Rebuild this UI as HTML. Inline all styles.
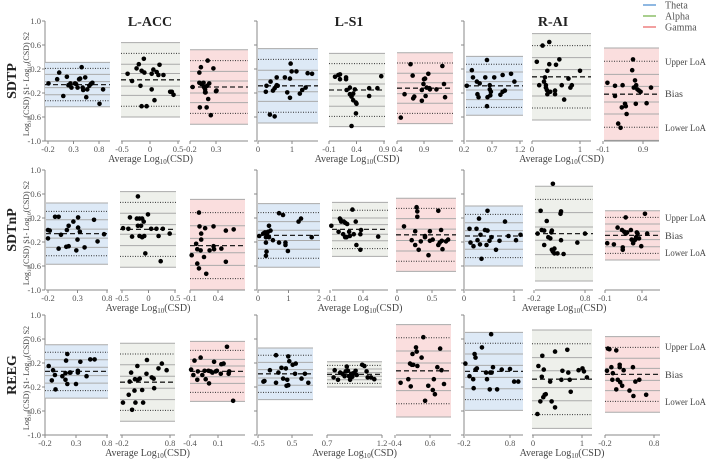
<!DOCTYPE html>
<html><head><meta charset="utf-8"><style>
html,body{margin:0;padding:0;background:#fff;}
svg{display:block;font-family:"Liberation Serif",serif;}
</style></head><body>
<svg id="chart" width="709" height="460" viewBox="0 0 709 460" xmlns="http://www.w3.org/2000/svg">
<g font-size="10" fill="#555">
<line x1="643" y1="5" x2="656" y2="5" stroke="#8fb8e2" stroke-width="2"/>
<text x="665" y="8.5">Theta</text>
<line x1="643" y1="16" x2="656" y2="16" stroke="#a9cf8e" stroke-width="2"/>
<text x="665" y="19.5">Alpha</text>
<line x1="643" y1="27" x2="656" y2="27" stroke="#f2a0a0" stroke-width="2"/>
<text x="665" y="30.5">Gamma</text>
</g>
<g font-weight="bold" font-size="14" fill="#222" text-anchor="middle">
<text x="150" y="26">L-ACC</text>
<text x="349" y="26">L-S1</text>
<text x="553" y="26">R-AI</text>
</g>
</svg>
<script>
const xTicks = [[-0.2,0.3,0.8],[-0.5,0,0.5],[-0.2,0.3],[0,1],[-0.1,0.4,0.9],[0.4,0.9],[0.2,0.7,1.2],[0,1],[-0.1,0.9],
[-0.2,0.3,0.8],[-0.5,0,0.5],[-0.1,0.4],[0,1,2],[-0.1,0.4],[0,0.5],[0,1],[-0.2,0.8],[-0.1,0.4],
[-0.2,0.3,0.8],[-0.2,0.8],[-0.4,0.1],[-0.5,0.5],[0.7,1.2],[-0.4,0.6],[-0.2,0.8],[0,1],[-0.2,0.8]];
const yTicks = [1.0,0.6,0.2,-0.2,-0.6,-1.0];
const rowLabels = ["SDTP","SDTnP","REEG"];
const biasVals = [-0.06,0.02,-0.1,-0.08,-0.15,-0.12,-0.08,0.07,-0.22, -0.06,0.01,-0.26,-0.09,0.01,-0.08,-0.1,-0.06,-0.09, 0.06,-0.12,0.06,0.02,0.01,0.07,0.06,-0.07,0.01];
const loaVals = [0.27,0.44,0.44,0.44,0.44,0.42,0.36,0.52,0.55, 0.37,0.45,0.55,0.38,0.32,0.44,0.36,0.57,0.3, 0.32,0.47,0.35,0.31,0.15,0.55,0.47,0.59,0.45];
const biasCI = [0.05,0.105,0.1,0.1,0.1,0.09,0.07,0.12,0.13, 0.075,0.08,0.12,0.085,0.08,0.095,0.09,0.11,0.07, 0.07,0.1,0.09,0.07,0.03,0.13,0.1,0.14,0.1];
const loaCI = [0.1,0.18,0.18,0.18,0.17,0.17,0.13,0.2,0.22, 0.14,0.18,0.22,0.15,0.13,0.17,0.14,0.22,0.11, 0.125,0.18,0.15,0.12,0.06,0.22,0.18,0.23,0.18];
const ptsX = [
[-0.19,-0.02,0.02,0.10,0.17,0.20,0.24,0.26,0.33,0.38,0.41,0.43,0.46,0.48,0.49,0.53,0.55,0.57,0.61,0.64,0.67,0.81,0.88,0.35],
[-0.40,-0.32,-0.24,-0.2,-0.15,-0.11,-0.1,-0.17,-0.15,-0.06,0.03,0.06,0.08,0.12,0.15,0.17,0.24,0.36,0.39,0.42,0.03],
[-0.15,-0.02,0.01,-0.02,0.02,0.06,0.07,0.09,0.09,0.1,0.14,0.13,0.15,0.17,-0.01,0.12,0.2,0.25,0.3,0.31,0.07],
[0.23,0.25,0.37,0.44,0.49,0.55,0.55,0.35,0.49,0.79,0.86,0.94,0.94,0.96,0.99,1.13,1.23,1.30,1.40,1.46,1.59,0.58],
[0.01,0.07,0.1,0.1,0.21,0.21,0.22,0.28,0.28,0.31,0.34,0.34,0.39,0.40,0.39,0.31,0.63,0.63,0.78,0.85,0.37],
[0.47,0.54,0.65,0.69,0.7,0.72,0.86,0.86,0.89,0.9,0.92,0.95,0.98,1.0,1.01,1.13,1.24,1.27,1.29,0.93],
[0.25,0.34,0.36,0.43,0.44,0.46,0.48,0.58,0.61,0.61,0.62,0.66,0.67,0.68,0.66,0.74,0.85,0.89,0.93,0.89,1.04,1.1],
[0.1,0.15,0.22,0.25,0.27,0.29,0.31,0.32,0.32,0.36,0.36,0.38,0.48,0.48,0.5,0.57,0.62,0.67,0.76,0.80,0.83,1.0,0.29],
[0.01,0.2,0.2,0.39,0.37,0.45,0.47,0.49,0.28,0.34,0.63,0.65,0.67,0.7,0.73,0.76,0.8,0.84,0.72,0.99,1.1],
[-0.2,-0.17,-0.2,-0.08,-0.02,-0.02,0.02,0.11,0.12,0.15,0.15,0.23,0.31,0.3,0.28,0.31,0.34,0.42,0.58,0.64,0.75],
[-0.48,-0.38,-0.35,-0.31,-0.2,-0.22,-0.17,-0.12,-0.14,-0.09,-0.2,-0.17,-0.12,-0.08,-0.06,-0.01,0.05,0.15,0.19,0.23,0.27,0.4],
[-0.07,0.01,0.03,0.03,0.06,0.06,0.07,0.1,0.1,0.09,0.15,0.17,0.19,0.25,0.32,0.32,0.33,0.46,0.54,0.54,0.68],
[0.04,0.17,0.23,0.26,0.26,0.28,0.26,0.3,0.33,0.36,0.36,0.41,0.49,0.69,0.82,0.69,0.9,0.9,0.98,1.33,1.41,1.76],
[-0.08,0.03,0.05,0.06,0.07,0.1,0.11,0.13,0.16,0.13,0.15,0.19,0.2,0.24,0.26,0.29,0.3,0.36,0.36,0.37,0.63],
[0.1,0.21,0.26,0.26,0.28,0.29,0.29,0.31,0.34,0.4,0.4,0.45,0.47,0.47,0.51,0.59,0.59,0.61,0.63,0.64,0.65,0.70,0.73],
[0.11,0.13,0.19,0.25,0.27,0.3,0.32,0.33,0.35,0.42,0.47,0.45,0.47,0.51,0.55,0.64,0.71,0.82,0.89,1.04,1.13],
[-0.13,-0.05,-0.07,0.0,0.0,0.05,0.08,0.12,0.14,0.15,0.15,0.17,0.17,0.2,0.2,0.26,0.32,0.33,0.33,0.38,0.65,0.8],
[-0.07,0.02,0.07,0.13,0.14,0.14,0.16,0.18,0.18,0.2,0.25,0.26,0.28,0.29,0.31,0.32,0.33,0.34,0.36,0.39,0.44,0.47],
[-0.14,-0.09,-0.07,-0.04,-0.03,0.08,0.13,0.14,0.16,0.16,0.2,0.21,0.3,0.33,0.33,0.37,0.47,0.53,0.6,0.13],
[-0.18,-0.06,-0.04,-0.01,0.01,0.06,0.07,0.08,0.12,0.13,0.17,0.22,0.24,0.31,0.32,0.42,0.46,0.47,0.56,0.63,0.73],
[-0.38,-0.34,-0.32,-0.27,-0.26,-0.21,-0.18,-0.14,-0.12,-0.07,-0.06,-0.03,0.0,0.03,0.08,0.15,0.16,0.2,0.26,0.29,0.3,0.37,0.06],
[-0.34,-0.31,-0.15,0.03,0.03,0.1,0.19,0.24,0.36,0.39,0.34,0.39,0.42,0.52,0.59,0.61,0.78,0.88,0.98,0.32],
[0.76,0.77,0.8,0.82,0.84,0.86,0.87,0.88,0.89,0.9,0.91,0.92,0.93,0.94,0.96,0.97,1.02,1.04,1.06,1.07,1.1,1.13],
[-0.24,-0.02,0.03,0.05,0.1,0.12,0.2,0.22,0.24,0.36,0.41,0.46,0.55,0.68,0.71,0.74,0.81,0.89,0.93,1.0,0.08],
[-0.17,-0.08,0.0,0.01,0.03,0.05,0.05,0.08,0.19,0.28,0.3,0.36,0.37,0.39,0.4,0.43,0.52,0.62,0.8,0.89,0.98],
[0.09,0.11,0.15,0.18,0.19,0.21,0.22,0.24,0.26,0.35,0.38,0.45,0.45,0.6,0.58,0.7,0.72,0.77,0.93,1.01,1.04,1.1,0.75],
[-0.16,-0.14,-0.11,-0.07,-0.05,-0.04,0.03,0.03,0.06,0.1,0.1,0.11,0.15,0.18,0.3,0.37,0.38,0.42,0.5,0.64]
];
const ptsY = [
[-0.04,0.03,0.14,-0.25,0.07,-0.07,-0.04,-0.11,-0.04,-0.11,0.03,0.04,0.23,-0.11,-0.15,0.06,-0.27,-0.14,-0.08,-0.05,-0.03,-0.38,-0.14,-0.05],
[0.12,0.0,0.21,0.28,0.17,0.37,0.14,-0.08,-0.42,-0.42,-0.14,0.19,-0.32,0.15,0.1,0.27,0.1,-0.18,-0.18,-0.23,0.12],
[-0.1,0.14,0.23,-0.03,-0.05,-0.03,-0.1,-0.14,-0.19,-0.19,0.34,-0.08,-0.3,-0.04,-0.44,-0.44,-0.57,0.21,-0.17,-0.16,-0.1],
[-0.18,-0.08,-0.01,-0.16,-0.12,-0.07,0.06,-0.56,-0.59,0.06,-0.19,-0.28,0.04,0.29,0.16,0.16,-0.21,-0.15,-0.11,0.13,0.12,-0.08],
[0.07,0.1,0.11,0.03,0.06,0.03,-0.15,-0.11,-0.22,-0.26,-0.21,-0.32,-0.36,-0.38,-0.54,-0.75,-0.12,-0.25,-0.12,0.08,-0.14],
[-0.61,-0.22,0.28,0.09,-0.29,-0.26,-0.33,-0.15,-0.05,0.03,0.04,-0.11,0.12,-0.12,-0.14,-0.14,0.25,-0.05,-0.27,-0.25],
[-0.08,0.18,0.06,-0.01,-0.22,-0.27,-0.04,0.06,0.35,-0.42,-0.27,-0.14,-0.24,-0.18,-0.07,0.06,-0.23,-0.18,-0.16,0.1,0.12,-0.01],
[0.32,-0.07,0.59,-0.01,0.06,-0.11,-0.15,0.17,-0.22,0.65,0.28,-0.18,-0.22,-0.16,0.27,0.36,-0.07,-0.31,0.04,-0.11,-0.07,0.17,-0.07],
[-0.03,-0.08,-0.25,-0.07,-0.44,-0.38,-0.42,-0.55,-0.71,-0.78,0.18,0.36,-0.11,0.01,-0.07,-0.14,-0.16,-0.18,-0.38,-0.37,-0.11],
[0.0,-0.01,-0.14,0.22,0.22,-0.31,-0.08,-0.28,0.0,-0.27,0.07,0.14,0.21,-0.16,-0.34,0.04,-0.03,-0.29,0.17,-0.19,-0.07],
[0.03,0.02,0.21,-0.11,0.56,0.19,0.19,0.19,0.07,0.14,0.07,-0.1,-0.12,-0.1,-0.39,0.26,0.02,0.02,-0.1,-0.52,0.02,-0.06],
[-0.42,-0.23,-0.32,-0.56,-0.64,0.29,0.06,-0.16,-0.06,-0.34,-0.45,0.03,-0.73,-0.34,0.06,-0.27,-0.32,-0.31,-0.01,-0.53,0.01],
[-0.1,-0.06,-0.04,-0.12,-0.21,-0.36,-0.43,-0.08,-0.03,-0.12,0.07,-0.01,-0.17,0.28,0.25,-0.21,-0.21,-0.25,-0.35,0.14,0.19,-0.12],
[0.07,-0.03,0.19,0.17,0.14,-0.07,0.14,0.12,0.1,-0.12,-0.12,-0.03,-0.1,0.34,-0.07,0.14,-0.25,-0.07,-0.33,0.0,-0.11],
[0.06,-0.17,-0.25,-0.02,0.38,0.31,0.22,-0.33,-0.19,-0.1,-0.12,-0.42,-0.02,-0.18,-0.16,0.32,-0.25,-0.21,0.0,-0.18,-0.32,-0.19,-0.16],
[0.02,-0.21,-0.27,0.02,-0.17,0.19,-0.24,-0.08,-0.48,0.0,-0.01,-0.25,0.32,-0.18,-0.12,-0.33,-0.18,0.14,-0.1,-0.17,-0.08],
[-0.06,0.0,0.32,-0.01,-0.25,0.15,-0.12,-0.14,-0.04,-0.01,-0.33,0.77,-0.36,-0.39,-0.31,-0.39,0.27,0.31,-0.17,-0.4,-0.21,-0.06],
[-0.22,-0.24,0.04,0.0,-0.33,-0.29,-0.03,-0.06,0.21,-0.04,0.0,-0.16,-0.22,-0.18,-0.16,-0.12,-0.04,-0.06,-0.14,-0.27,0.27,-0.06],
[0.15,-0.09,0.08,0.0,-0.24,-0.02,-0.08,0.24,0.35,-0.15,0.04,0.04,-0.15,0.07,0.04,0.22,-0.02,0.26,0.26,0.03],
[-0.46,-0.33,-0.11,0.04,-0.58,-0.26,-0.07,-0.46,0.15,-0.08,-0.06,-0.25,-0.46,0.02,0.25,-0.04,-0.06,-0.22,0.11,0.19,0.08],
[0.09,0.0,0.24,-0.08,0.06,0.29,0.0,0.07,-0.07,0.07,-0.14,0.06,0.04,0.22,0.07,0.02,0.18,0.19,0.47,0.02,0.06,-0.43,0.06],
[-0.11,-0.1,0.08,0.33,-0.13,0.04,0.12,-0.06,-0.08,-0.17,-0.18,0.31,0.23,0.17,0.02,0.19,-0.06,0.02,-0.13,0.11],
[-0.04,0.08,-0.08,0.04,0.02,-0.02,0.06,0.14,0.07,-0.02,-0.08,0.02,-0.03,0.03,0.07,0.0,0.17,0.15,0.06,-0.04,-0.04,-0.07],
[-0.13,-0.07,0.19,-0.19,0.35,0.17,0.46,0.39,0.15,0.29,0.63,-0.43,-0.18,-0.25,-0.07,-0.32,0.13,0.44,0.08,-0.15,0.17],
[0.19,-0.02,-0.07,-0.22,0.35,0.29,0.09,0.11,0.46,0.04,-0.07,-0.24,0.04,0.68,0.04,0.13,-0.24,0.09,0.1,-0.11,-0.11],
[-0.65,0.15,-0.44,-0.03,0.32,-0.37,0.09,-0.33,-0.32,-0.11,-0.44,-0.54,0.39,0.07,-0.08,0.42,0.04,-0.28,0.08,0.11,0.06,-0.04,-0.08],
[0.07,0.44,0.43,0.13,-0.08,0.03,0.41,-0.24,-0.08,0.13,0.17,-0.12,-0.18,0.08,-0.26,0.13,-0.35,-0.11,-0.08,-0.33]
];
// layout (pixel geometry): [left,right,refVal1,refPx1,refVal2,refPx2]
const layout = [
[45,110,-0.2,48,0.8,99],[121,180,-0.5,122,0.5,178],[190,248,-0.2,190,0.3,216],[258,318,0,258,1,292],[329,385,-0.1,329,0.9,384],[397,453,0.4,397,0.9,424],[466,523,0.2,464,1.2,520],[532,591,0,532,1,580],[604,659,-0.1,603,0.9,643],
[46,108,-0.2,48,0.8,107],[120,176,-0.5,122,0.5,175],[190,245,-0.1,190,0.4,218],[258,320,0,258,2,319],[332,388,-0.1,330,0.4,363],[396,456,0,397,0.5,432],[465,523,0,464,1,514],[535,593,-0.2,534,0.8,585],[605,660,-0.1,605,0.4,642],
[45,108,-0.2,45,0.8,107],[120,175,-0.2,122,0.8,170],[190,245,-0.4,190,0.1,218],[258,313,-0.5,258,0.5,292],[327,382,0.7,327,1.2,382],[396,451,-0.4,395,0.6,430],[465,523,-0.2,464,0.8,510],[532,592,0,533,1,582],[605,660,-0.2,605,0.8,654]
];
const rowTop = [21,170,315];
const groupAxisX = [45,257,464];
const bandColors = ["#dde9f6","#eef0eb","#fadede"];
const bandNames = ["theta","alpha","gamma"];
const groupNames = ["l-acc","l-s1","r-ai"];
const NS = "http://www.w3.org/2000/svg";
const svg = document.getElementById("chart");
function mk(tag, attrs, parent){const e=document.createElementNS(NS,tag);for(const k in attrs)e.setAttribute(k,attrs[k]);(parent||svg).appendChild(e);return e;}
function yScale(r,v){return rowTop[r]+(1-v)*60;}

for(let r=0;r<3;r++){
  const g=mk("g",{});
  
  
  const cy=rowTop[r]+60;
  const rl=mk("text",{x:0,y:0,transform:`translate(16,${cy}) rotate(-90)`,"text-anchor":"middle","font-size":"14","font-weight":"bold",fill:"#222"},g);
  rl.textContent=rowLabels[r];
  
  
  const yt=mk("text",{x:0,y:0,transform:`translate(29,${cy+3}) rotate(-90)`,"text-anchor":"middle","font-size":"8",fill:"#444"},g);
  yt.innerHTML='Log<tspan font-size="5.5" dy="2">10</tspan><tspan dy="-2">(CSD) S1- Log</tspan><tspan font-size="5.5" dy="2">10</tspan><tspan dy="-2">(CSD) S2</tspan>';
  
  
  for(let gi=0;gi<3;gi++){
    const ax=groupAxisX[gi];
    const al=mk("line",{x1:ax,y1:yScale(r,1),x2:ax,y2:yScale(r,-1),stroke:"#888","stroke-width":1},g);
    
    
    yTicks.forEach(t=>{
      const tk=mk("line",{x1:ax-3,y1:yScale(r,t),x2:ax,y2:yScale(r,t),stroke:"#888"},g);
      
      
      if(gi===0){
        const tl=mk("text",{x:ax-4,y:yScale(r,t)+3,"text-anchor":"end","font-size":"8.5",fill:"#555"},g);
        tl.textContent=t.toFixed(1);
        
        
      }
    });
    const mid=layout[r*9+gi*3+1];
    const xt=mk("text",{x:(mid[0]+mid[1])/2,y:yScale(r,-1)+21,"text-anchor":"middle","font-size":"10",fill:"#444"},g);
    xt.innerHTML='Average Log<tspan font-size="7" dy="2">10</tspan><tspan dy="-2">(CSD)</tspan>';
    
    
  }
  [["Upper LoA",0,41],["Bias",1,18],["Lower LoA",2,41]].forEach(([s,i,w])=>{
    const ys=[[62,94,128],[218,236,253],[347,375,402]][r][i];
    const t=mk("text",{x:665,y:ys+3,"font-size":"9.5",fill:"#444",textLength:w,lengthAdjust:"spacingAndGlyphs"},g);
    t.textContent=s;
    
    
  });
  for(let c=0;c<9;c++){
    const i=r*9+c;
    const L=layout[i];
    const xs=v=>L[3]+(v-L[2])*(L[5]-L[3])/(L[4]-L[2]);
    const pg=mk("g",{},g);
    
    
    const b=biasVals[i], la=loaVals[i], bc=biasCI[i], lc=loaCI[i];
    const top=Math.min(1,b+la+lc), bot=Math.max(-1,b-la-lc);
    const rect=mk("rect",{x:L[0],y:yScale(r,top),width:L[1]-L[0],height:yScale(r,bot)-yScale(r,top),fill:bandColors[c%3]},pg);
    
    
    [b+la+lc,b+la-lc,b+bc,b-bc,b-la+lc,b-la-lc].forEach(v=>{
      if(v>1||v<-1)return;
      const sl=mk("line",{x1:L[0],x2:L[1],y1:yScale(r,v),y2:yScale(r,v),stroke:"#aaa","stroke-width":1},pg);
      
      
    });
    [b+la,b-la].forEach((v,k)=>{
      const dl=mk("line",{x1:L[0],x2:L[1],y1:yScale(r,v),y2:yScale(r,v),stroke:"#333","stroke-width":1,"stroke-dasharray":"1,1.5"},pg);
      
      
    });
    const bl=mk("line",{x1:L[0],x2:L[1],y1:yScale(r,b),y2:yScale(r,b),stroke:"#222","stroke-width":1.3,"stroke-dasharray":"5,3"},pg);
    
    
    const xa=mk("line",{x1:L[0],x2:L[1],y1:yScale(r,-1),y2:yScale(r,-1),stroke:"#888"},pg);
    
    
    xTicks[i].forEach(t=>{
      const px=xs(t);
      const tk=mk("line",{x1:px,x2:px,y1:yScale(r,-1),y2:yScale(r,-1)+3,stroke:"#888"},pg);
      
      
      const tl=mk("text",{x:px,y:yScale(r,-1)+11,"text-anchor":"middle","font-size":"8.5",fill:"#555"},pg);
      tl.textContent=String(t);
      
      
    });
    ptsX[i].forEach((xv,k)=>{
      const d=mk("circle",{cx:xs(xv),cy:yScale(r,ptsY[i][k]),r:2.3,fill:"#000"},pg);
      
      
    });
  }
}
</script>
</body></html>
